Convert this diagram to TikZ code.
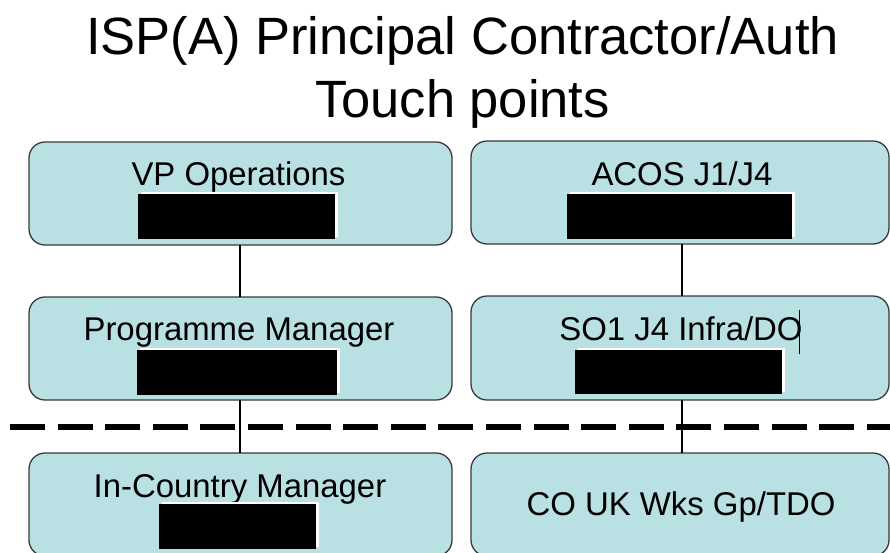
\documentclass[tikz,border=0pt]{standalone}
\usepackage{fontspec}
\setmainfont{Liberation Sans}
\definecolor{boxfill}{RGB}{185,224,227}
\definecolor{boxline}{RGB}{58,58,58}
\begin{document}
\begin{tikzpicture}[x=1pt,y=-1pt,
  rolebox/.style={draw=boxline, line width=1.3pt, fill=boxfill, rounded corners=16pt,
    rectangle, inner sep=0pt, outer sep=0pt, minimum width=#1},
  rolebox/.default=423pt,
  roletext/.style={anchor=base, inner sep=0pt, font=\fontsize{32.9}{40}\selectfont},
  titletext/.style={anchor=base, inner sep=0pt, font=\fontsize{52.5}{64}\selectfont},
  link/.style={line width=2.4pt, black},
  divider/.style={line width=5.5pt, black, dash pattern=on 35pt off 12.6pt}]
\useasboundingbox (0,0) rectangle (890,552);
\clip (0,0) rectangle (890,552);
\fill[white] (0,0) rectangle (890,552);

% title
\node[titletext] (title1) at (462.5,54) {ISP(A) Principal Contractor/Auth};
\node[titletext] (title2) at (462.5,117) {Touch points};

% divider between head office and in-country roles
\coordinate (divL) at (10,427);
\coordinate (divR) at (900,427);
\draw[divider] (divL) -- (divR);

% role boxes
\node[rolebox, minimum height=103pt] (L1) at (240.5,193.5) {};
\node[rolebox, minimum height=103pt] (L2) at (240.5,348.5) {};
\node[rolebox, minimum height=103pt] (L3) at (240.5,504.5) {};
\node[rolebox=418pt, minimum height=103pt] (R1) at (680,192.5) {};
\node[rolebox=418pt, minimum height=104pt] (R2) at (680,348) {};
\node[rolebox=418pt, minimum height=103pt] (R3) at (680,504.5) {};

% connectors
\draw[link] ([xshift=-0.5pt]L1.south) -- ([xshift=-0.5pt]L2.north);
\draw[link] ([xshift=-0.5pt]L2.south) -- ([xshift=-0.5pt]L3.north);
\draw[link] ([xshift=2pt]R1.south) -- ([xshift=2pt]R2.north);
\draw[link] ([xshift=2pt]R2.south) -- ([xshift=2pt]R3.north);

% role titles
\node[roletext] (t1) at (238.5,185) {VP Operations};
\node[roletext] (t2) at (239,340) {Programme Manager};
\node[roletext] (t3) at (240,497) {In-Country Manager};
\node[roletext] (t4) at (682,185) {ACOS J1/J4};
\node[roletext] (t5) at (681,340) {SO1 J4 Infra/DO};
\node[roletext] (t6) at (681,515) {CO UK Wks Gp/TDO};

% text cursor after "DO"
\draw[line width=0.8pt] (799,310) -- (799,354);

% blanked-out names
\foreach \xa/\ya/\xb/\yb in {138/194/335/239, 137/350/337/395, 159/504/316/549,
                             567/194/792/239, 575/350/782/394} {
  \fill[white] (\xa+3,\ya-2) rectangle (\xb+3,\yb-2);
  \fill[black] (\xa,\ya) rectangle (\xb,\yb);
}
\end{tikzpicture}
\end{document}
